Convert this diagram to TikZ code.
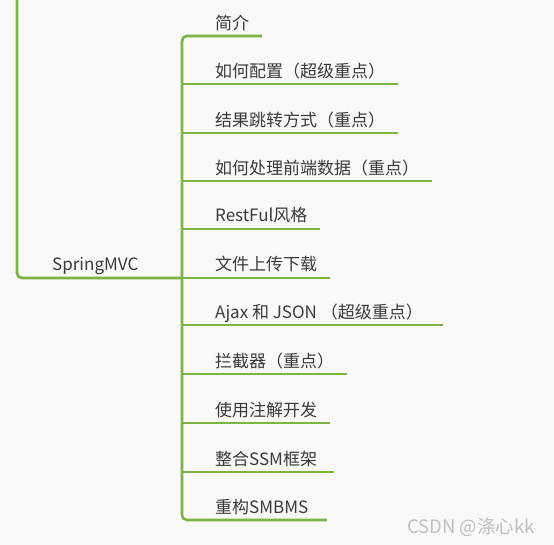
\documentclass[tikz,border=0pt]{standalone}
\usepackage{fontspec}
\setmainfont{Noto Sans CJK SC}
\definecolor{branch}{RGB}{124,179,66}
\definecolor{txt}{RGB}{58,58,58}
\definecolor{bg}{RGB}{249,249,249}
\definecolor{wm}{RGB}{190,190,190}
\begin{document}
\begin{tikzpicture}[x=1pt,y=-1pt,
  branchline/.style={draw=branch,line width=2.6pt,rounded corners=5pt},
  item/.style={anchor=base west,inner sep=0pt,text=txt,font=\fontsize{17}{20}\selectfont},
  uline/.style={draw=branch,line width=2.6pt}]
\fill[bg] (0,0) rectangle (554,545);
\useasboundingbox (0,0) rectangle (554,545);
% root
\node[item] (root) at (52,271) {SpringMVC};
\coordinate (rtop) at (17,-2);
\coordinate (hub) at (182,278);
\draw[branchline] (rtop) |- (hub);
% children
\node[item] (c1) at (215,30) {简介};
\node[item] (c2) at (215,78) {如何配置（超级重点）};
\node[item] (c3) at (215,127) {结果跳转方式（重点）};
\node[item] (c4) at (215,175) {如何处理前端数据（重点）};
\node[item] (c5) at (215,222) {RestFul风格};
\node[item] (c6) at (215,271) {文件上传下载};
\node[item] (c7) at (215,319) {Ajax 和 JSON （超级重点）};
\node[item] (c8) at (215,367) {拦截器（重点）};
\node[item] (c9) at (215,416) {使用注解开发};
\node[item] (c10) at (215,465) {整合SSM框架};
\node[item] (c11) at (215,513) {重构SMBMS};
\coordinate (e1) at (262,36);
\coordinate (e2) at (398,84);
\coordinate (e3) at (398,133);
\coordinate (e4) at (432,181);
\coordinate (e5) at (320,229);
\coordinate (e6) at (330,278);
\coordinate (e7) at (443,325);
\coordinate (e8) at (347,374);
\coordinate (e9) at (330,423);
\coordinate (e10) at (334,472);
\coordinate (e11) at (327,520);
\draw[branchline] (e1) -| (182,280) |- (e11);
\foreach \i/\y in {2/84,3/133,4/181,5/229,6/278,7/325,8/374,9/423,10/472}
  \draw[uline] (182,\y) -- (e\i);
% watermark
\node[anchor=base west,inner sep=0pt,text=wm,font=\fontsize{18.5}{21}\selectfont] (wmk) at (407,533) {CSDN @涤心kk};
\end{tikzpicture}
\end{document}
